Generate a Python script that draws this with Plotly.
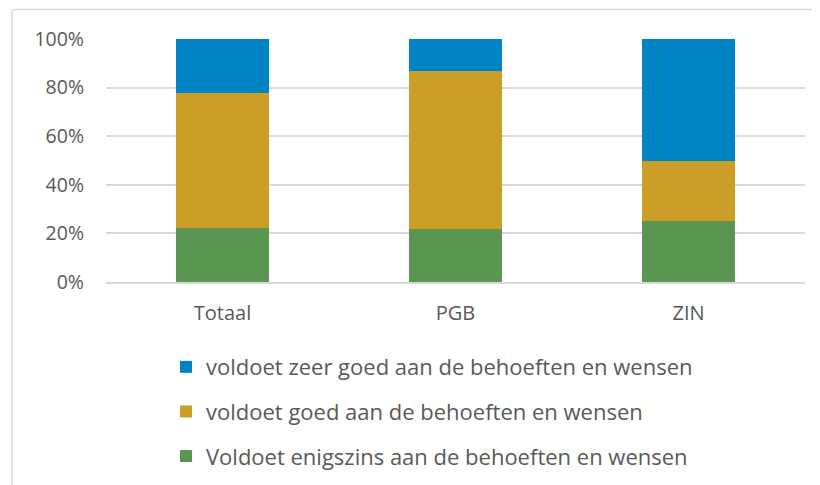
import plotly.graph_objects as go

categories = ["Totaal", "PGB", "ZIN"]
enigszins = [22.2, 21.7, 25.0]
goed = [55.6, 65.2, 25.0]
zeer_goed = [22.2, 13.1, 50.0]
tick_vals = [0, 20, 40, 60, 80, 100]
tick_text = ["0%", "20%", "40%", "60%", "80%", "100%"]

series = [
    ("Voldoet enigszins aan de behoeften en wensen", enigszins, "#5A9651", 3),
    ("voldoet goed aan de behoeften en wensen", goed, "#CB9E28", 2),
    ("voldoet zeer goed aan de behoeften en wensen", zeer_goed, "#0083C3", 1),
]

fig = go.Figure()
for i, (name, vals, color, rank) in enumerate(series):
    fig.add_trace(go.Bar(
        x=categories, y=vals, name=name, legendgroup=str(i), legendrank=rank,
        marker=dict(color=color, line=dict(width=0)),
    ))

# page body adds 8px offset, so margins are shifted accordingly
fig.update_layout(
    barmode="stack",
    bargap=0.6,
    width=820, height=485,
    margin=dict(l=98, r=23, t=31, b=211, autoexpand=False),
    plot_bgcolor="white", paper_bgcolor="white",
    font=dict(family="Open Sans, sans-serif", color="#595959", size=19.5),
    legend=dict(
        orientation="v", traceorder="grouped", tracegroupgap=13,
        x=60 / 699, xanchor="left", y=-0.2636, yanchor="top",
        font=dict(size=22, color="#595959"),
        itemwidth=30,
    ),
    showlegend=True,
)

fig.update_yaxes(
    range=[0, 100], tickvals=tick_vals, ticktext=tick_text,
    showgrid=True, gridcolor="#d9d9d9", gridwidth=1.5,
    zeroline=False, showline=False, ticks="", ticklabelstandoff=21,
    automargin=False,
)
fig.update_xaxes(
    showline=True, linecolor="#d9d9d9", linewidth=1.5, ticks="",
    tickfont=dict(size=20), ticklabelstandoff=12, automargin=False,
)

# chart area border (top and left edges visible in frame)
top_y = (274 - 1.5) / 243
left_x = (4 - 98) / 699
fig.add_shape(type="line", xref="paper", yref="paper",
              x0=left_x, x1=1.1, y0=top_y, y1=top_y,
              line=dict(color="#d9d9d9", width=1.5))
fig.add_shape(type="line", xref="paper", yref="paper",
              x0=left_x, x1=left_x, y0=top_y, y1=-1.0,
              line=dict(color="#d9d9d9", width=1.5))

fig.write_html("out.html")
